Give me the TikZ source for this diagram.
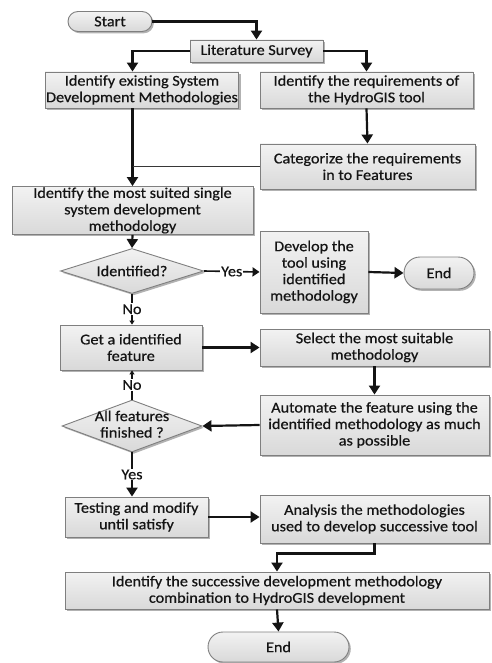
\documentclass[tikz,border=0pt]{standalone}
\usepackage{fontspec}
\setmainfont{Carlito}[FakeStretch=1.08,FakeBold=0.6]
\usetikzlibrary{shapes.geometric,shapes.misc,shadows,arrows.meta}
\definecolor{boxline}{HTML}{7F7F7F}
\definecolor{ink}{HTML}{141414}
\tikzset{
  base/.style={draw=boxline, line width=0.9pt, top color=white!90!gray, bottom color=gray!30,
    text=ink, align=center, inner sep=1pt,
    drop shadow={shadow xshift=1.8pt, shadow yshift=-1.8pt, opacity=0.5, fill=gray!80!black},
    font=\fontsize{15}{16.5}\selectfont},
  procbox/.style={base, rectangle},
  termbox/.style={base, rounded rectangle},
  decbox/.style={base, diamond, inner sep=0pt},
  conn/.style={draw=ink, line width=2.2pt, -{Triangle[width=11pt,length=9pt]}},
  plainline/.style={draw=ink!85, line width=1.3pt},
  smallconn/.style={draw=ink, line width=1.5pt, -{Triangle[width=5pt,length=4pt]}},
  midconn/.style={draw=ink, line width=1.6pt, -{Triangle[width=9pt,length=7pt]}},
  lbl/.style={fill=white, inner sep=1pt, text=ink, font=\fontsize{15}{16}\selectfont}
}
\begin{document}
\begin{tikzpicture}[x=1pt,y=-1pt]
\useasboundingbox (0,0) rectangle (491,663);
\node[termbox, minimum width=86pt, minimum height=20pt] (start) at (110,21.5) {Start};
\node[procbox, minimum width=133pt, minimum height=22pt] (lit) at (256.5,51) {Literature Survey};
\node[procbox, minimum width=190pt, minimum height=36pt] (ident) at (142,90) {Identify existing System\\Development Methodologies};
\node[procbox, minimum width=213pt, minimum height=36pt] (req) at (366.5,90) {Identify the requirements of\\the HydroGIS tool};
\node[procbox, minimum width=215pt, minimum height=45pt] (cat) at (367.5,166.5) {Categorize the requirements\\in to Features};
\node[procbox, minimum width=241pt, minimum height=45pt] (suited) at (132.5,210.5) {Identify the most suited single\\system development\\methodology};
\node[decbox, minimum width=143pt, minimum height=45pt] (d1) at (132,271) {\makebox[0pt]{Identified?}};
\node[procbox, minimum width=108pt, minimum height=82pt] (dev) at (314,272) {Develop the\\tool using\\identified\\methodology};
\node[termbox, minimum width=72pt, minimum height=32pt] (end1) at (439,273) {End};
\node[procbox, minimum width=142pt, minimum height=45pt] (get) at (131,347.5) {Get a identified\\feature};
\node[procbox, minimum width=229pt, minimum height=37pt] (select) at (374.5,347.5) {Select the most suitable\\methodology};
\node[procbox, minimum width=229pt, minimum height=60pt] (auto) at (374.5,425) {Automate the feature using the\\identified methodology as much\\as possible};
\node[decbox, minimum width=140pt, minimum height=52pt] (d2) at (132,426) {\makebox[0pt]{\begin{tabular}{@{}c@{}}All features\\finished ?\end{tabular}}};
\node[procbox, minimum width=143pt, minimum height=40pt] (test) at (136.5,517) {Testing and modify\\until satisfy};
\node[procbox, minimum width=229pt, minimum height=48pt] (ana) at (374.5,519) {Analysis the methodologies\\used to develop successive tool};
\node[procbox, minimum width=424pt, minimum height=37pt] (succ) at (277,590.5) {Identify the successive development methodology\\combination to HydroGIS development};
\node[termbox, minimum width=143pt, minimum height=30pt] (end2) at (278.5,647) {End};

\draw[conn] (start.east) -| (lit.north);
\draw[conn] (lit.west) -| (ident.north -| suited.north);
\draw[conn] (lit.east) -| (req.north);
\draw[conn] (req.south) -- (cat.north);
\draw[conn] (ident.south -| suited.north) -- (suited.north);
\draw[plainline] (cat.west) -- (cat.west -| suited.north);
\draw[conn] (suited.south) -- (d1.north);
\draw[midconn] (d1.east) -- node[lbl]{Yes} (dev.west);
\draw[conn] (dev.east) -- (end1.west);
\draw[smallconn] (d1.south) -- node[lbl]{No} (d1.south |- get.north);
\draw[conn] (get.east) -- (select.west);
\draw[conn] (select.south) -- (auto.north);
\draw[conn] (auto.west) -- (d2.east);
\draw[smallconn] (d2.north) -- node[lbl]{No} (d2.north |- get.south);
\draw[conn] (d2.south) -- node[lbl]{Yes} (d2.south |- test.north);
\draw[conn] (test.east) -- (test.east -| ana.west);
\draw[conn] (ana.south) -- ++(0,10) -| (succ.north);
\draw[conn] (succ.south) -- (end2.north);
\end{tikzpicture}
\end{document}
